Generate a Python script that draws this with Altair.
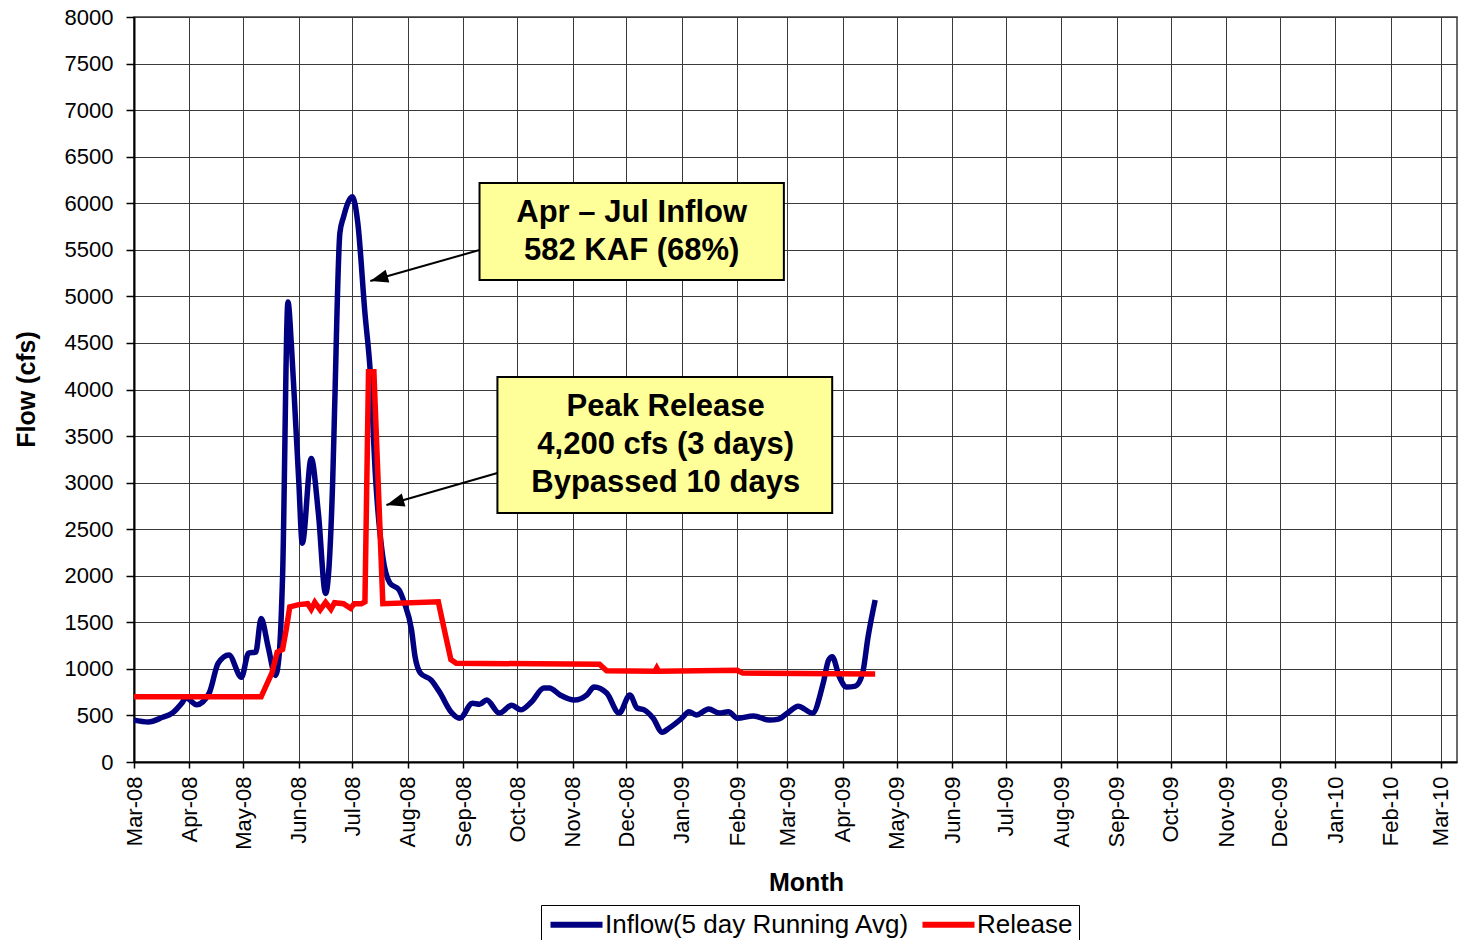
import altair as alt
import pandas as pd

FONT = "Liberation Sans, Arial, Helvetica, sans-serif"

# ---------------- data ----------------
inflow_dates = [
    "2008-03-01", "2008-03-09", "2008-03-17", "2008-03-22", "2008-03-28", "2008-03-30",
    "2008-04-05", "2008-04-12", "2008-04-17", "2008-04-23", "2008-04-30", "2008-05-04",
    "2008-05-08", "2008-05-11", "2008-05-15", "2008-05-19", "2008-05-21", "2008-05-23",
    "2008-05-26", "2008-05-28", "2008-05-30", "2008-06-01", "2008-06-03", "2008-06-08",
    "2008-06-12", "2008-06-16", "2008-06-20", "2008-06-21", "2008-06-24", "2008-06-26",
    "2008-07-01", "2008-07-04", "2008-07-08", "2008-07-11", "2008-07-14", "2008-07-18",
    "2008-07-22", "2008-07-27", "2008-07-30", "2008-08-03", "2008-08-05", "2008-08-08",
    "2008-08-14", "2008-08-19", "2008-08-25", "2008-08-30", "2008-09-06", "2008-09-10",
    "2008-09-14", "2008-09-21", "2008-09-28", "2008-10-03", "2008-10-09", "2008-10-16",
    "2008-10-19", "2008-10-25", "2008-11-02", "2008-11-09", "2008-11-13", "2008-11-20",
    "2008-11-27", "2008-12-03", "2008-12-07", "2008-12-11", "2008-12-16", "2008-12-21",
    "2008-12-25", "2009-01-01", "2009-01-05", "2009-01-09", "2009-01-16", "2009-01-22",
    "2009-01-27", "2009-02-01", "2009-02-10", "2009-02-19", "2009-02-24", "2009-03-01",
    "2009-03-07", "2009-03-15", "2009-03-21", "2009-03-24", "2009-03-26", "2009-03-30",
    "2009-04-03", "2009-04-08", "2009-04-12", "2009-04-15", "2009-04-19",
]
inflow_cfs = [
    450, 430, 480, 520, 640, 690,
    615, 740, 1060, 1150, 910, 1170,
    1180, 1540, 1230, 930, 1130, 2000,
    4940, 4450, 3750, 3030, 2350, 3260,
    2670, 1810, 3030, 3750, 5680, 5850,
    6070, 5790, 4820, 4180, 3030, 2200,
    1920, 1850, 1710, 1420, 1130, 955,
    880, 740, 540, 470, 630, 620,
    665, 525, 610, 560, 645, 795,
    795, 720, 665, 720, 805, 740,
    525, 720, 580, 560, 470, 320,
    365, 470, 540, 505, 570, 525,
    540, 470, 495, 450, 460, 525,
    600, 525, 850, 1095, 1130, 915,
    805, 815, 955, 1340, 1740,
]

release_dates = [
    "2008-03-01", "2008-05-11", "2008-05-17", "2008-05-20", "2008-05-23", "2008-05-25",
    "2008-05-27", "2008-06-01", "2008-06-06", "2008-06-08", "2008-06-10", "2008-06-13",
    "2008-06-16", "2008-06-19", "2008-06-21", "2008-06-26", "2008-06-30", "2008-07-02",
    "2008-07-06", "2008-07-08", "2008-07-10", "2008-07-13", "2008-07-18", "2008-08-18",
    "2008-08-21", "2008-08-25", "2008-08-28", "2008-11-16", "2008-11-20", "2008-12-17",
    "2008-12-18", "2008-12-19", "2009-02-01", "2009-02-04", "2009-04-19",
]
release_cfs = [
    700, 700, 955, 1180, 1210, 1420,
    1665, 1690, 1700, 1640, 1715, 1635,
    1715, 1640, 1710, 1700, 1650, 1700,
    1700, 1720, 4190, 4190, 1700, 1720,
    1450, 1100, 1060, 1050, 980, 975,
    1010, 975, 985, 955, 945,
]

series_names = ["Inflow(5 day Running Avg)", "Release"]
series_colors = ["#000080", "#FF0000"]

y_ticks = list(range(0, 8001, 500))
tick_months = [(2008 + (2 + i) // 12, (2 + i) % 12 + 1) for i in range(25)]  # Mar-08 .. Mar-10

# annotation boxes (in data space)
box_x = ["2008-09-10", "2008-09-20"]
box_x2 = ["2009-02-27", "2009-03-26"]
box_y = [6217, 4134]
box_y2 = [5176, 2674]
box_text_x = ["2008-12-04", "2008-12-23"]
box_text_y = [5696, 3404]
box_text = ["Apr \u2013 Jul Inflow\n582 KAF (68%)",
            "Peak Release\n4,200 cfs (3 days)\nBypassed 10 days"]
arrow_from_x = ["2008-09-10", "2008-09-20"]
arrow_from_y = [5498, 3103]
arrow_to_x = ["2008-07-11", "2008-07-20"]
arrow_to_y = [5165, 2760]

# ---------------- tables ----------------
inflow_df = pd.DataFrame({"date": inflow_dates, "flow": inflow_cfs, "series": series_names[0]})
release_df = pd.DataFrame({"date": release_dates, "flow": release_cfs, "series": series_names[1]})
box_df = pd.DataFrame({"date": box_x, "date2": box_x2, "flow": box_y, "flow2": box_y2})
arrow_df = pd.DataFrame({"date": arrow_from_x, "flow": arrow_from_y,
                         "date2": arrow_to_x, "flow2": arrow_to_y})
head_df = pd.DataFrame({"date": arrow_to_x, "flow": arrow_to_y})

x_scale = alt.Scale(type="utc",
                    domain=[alt.DateTime(year=2008, month=3, date=1, utc=True),
                            alt.DateTime(year=2010, month=3, date=10, utc=True)])
y_scale = alt.Scale(domain=[0, 8000], nice=False, zero=True)

x_axis = alt.Axis(
    values=[alt.DateTime(year=yy, month=mm, date=1, utc=True) for yy, mm in tick_months],
    labelExpr="utcFormat(datum.value, '%b-%y')", labelAngle=270, labelFontSize=22,
    labelPadding=8, tickSize=6, title="Month", titleFontSize=25, titleFontWeight="bold",
    titleX=672, titleY=120, titleAlign="center", titleBaseline="middle",
    grid=True,
)
y_axis = alt.Axis(
    values=y_ticks, format="d", labelFontSize=22, labelPadding=13, tickSize=8,
    title="Flow (cfs)", titleFontSize=25, titleFontWeight="bold",
    titleX=-108, titleY=372, titleAngle=270, titleAlign="center", titleBaseline="middle",
    grid=True,
)

X = alt.X("date:T", scale=x_scale, axis=x_axis)
Y = alt.Y("flow:Q", scale=y_scale, axis=y_axis)

color = alt.Color(
    "series:N",
    scale=alt.Scale(domain=series_names, range=series_colors),
    legend=alt.Legend(
        title=None, orient="none", legendX=407, legendY=888, direction="horizontal",
        symbolType="M-2.5,0H2.5", symbolSize=433, symbolStrokeWidth=6, symbolOffset=16,
        labelFontSize=26, labelFont=FONT, labelColor="black", labelLimit=0,
        strokeColor="black", fillColor="white", padding=6, columnPadding=0, labelOffset=15,
    ),
)

inflow_line = alt.Chart(inflow_df).mark_line(strokeWidth=5.5, interpolate="monotone").encode(
    x=X, y=Y, color=color,
)
release_line = alt.Chart(release_df).mark_line(strokeWidth=5.5).encode(
    x=X, y=Y, color=color,
)

arrows = alt.Chart(arrow_df).mark_rule(color="black", strokeWidth=2).encode(
    x=X, x2="date2:T", y=Y, y2="flow2:Q",
)
heads = alt.Chart(head_df).mark_point(
    shape="M0,0L0.6,1.6L-0.6,1.6Z", size=500, filled=True, color="black",
    opacity=1, angle=254, strokeWidth=0,
).encode(x=X, y=Y)
boxes = alt.Chart(box_df).mark_rect(fill="#FFFF99", stroke="black", strokeWidth=2).encode(
    x=X, x2="date2:T", y=Y, y2="flow2:Q",
)

LINE_H = 38
text_layers = []
for tx, ty, tl in zip(box_text_x, box_text_y, box_text):
    n_lines = tl.count("\n") + 1
    tdf = pd.DataFrame({"date": [tx], "flow": [ty], "label": [tl]})
    text_layers.append(
        alt.Chart(tdf).mark_text(
            font=FONT, fontSize=31, fontWeight="bold", lineBreak="\n", lineHeight=LINE_H,
            align="center", baseline="middle", color="black", dy=-(n_lines - 1) * LINE_H / 2,
        ).encode(x=X, y=Y, text="label:N")
    )

chart = alt.layer(inflow_line, release_line, arrows, heads, boxes, *text_layers).properties(
    width=1323, height=745,
    padding={"left": 126, "top": 9, "right": 1, "bottom": 178},
    autosize=alt.AutoSizeParams(type="none"),
    background="white",
).configure_axis(
    labelFont=FONT, titleFont=FONT, labelColor="black", titleColor="black",
    domainColor="black", domainWidth=2, tickColor="black", tickWidth=1.5,
    gridColor="#3a3a3a", gridWidth=1, gridOpacity=1,
).configure_view(stroke="#3a3a3a", strokeWidth=1.5)

chart.save("out.html", embed_options={"renderer": "svg", "actions": False})
